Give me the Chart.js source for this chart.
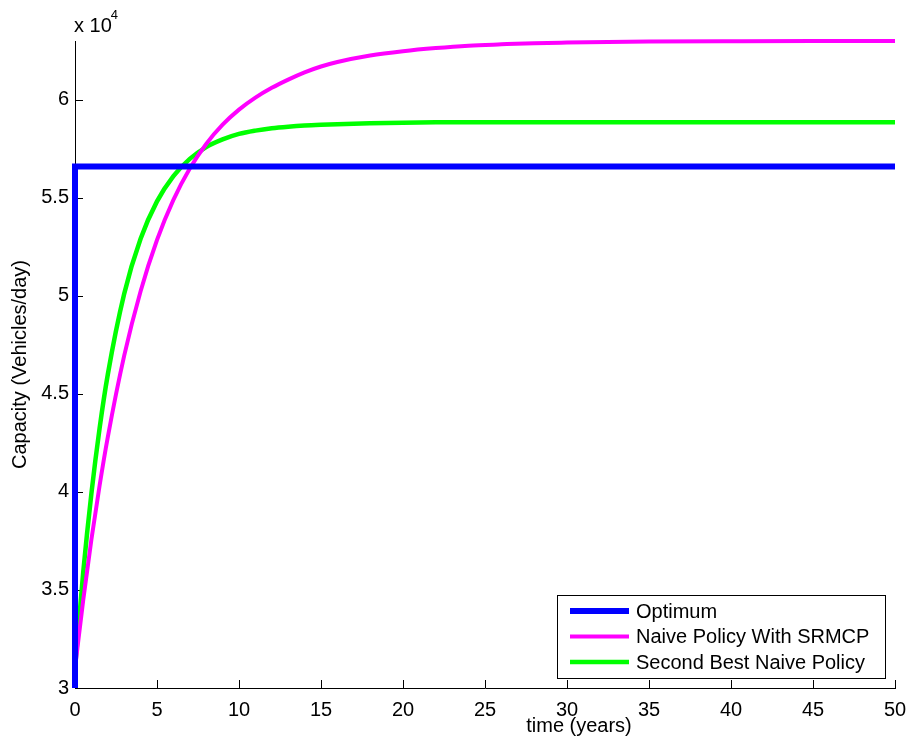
<!DOCTYPE html>
<html>
<head>
<meta charset="utf-8">
<script src="https://cdn.jsdelivr.net/npm/chart.js@4/dist/chart.umd.min.js"></script>
<style>
  html, body { margin: 0; padding: 0; background: #fff; }
  #wrap { width: 907px; height: 744px; }
</style>
</head>
<body>
<div id="wrap"><canvas id="capacityChart" width="907" height="744"></canvas></div>
<script>
// time axis (years) and capacity (vehicles/day)
const years = [0, 0.5, 1, 1.5, 2, 3, 4, 5, 6, 7, 8, 9, 10, 11, 12, 13, 14, 15, 16, 18, 20, 22, 24, 26, 28, 30, 35, 40, 45, 50];
const naiveSRMCP = [31000, 34480, 37570, 40330, 42800, 46950, 50240, 52850, 54900, 56500, 57750, 58730, 59500,
                    60110, 60610, 61030, 61400, 61700, 61930, 62260, 62480, 62640, 62760, 62830, 62890, 62920,
                    62970, 62990, 63000, 63000];
const secondBest = [31000, 35890, 39920, 43250, 45990, 50110, 52910, 54820, 56110, 56990, 57590, 57980, 58260,
                    58430, 58550, 58630, 58690, 58730, 58760, 58800, 58830, 58850, 58860, 58860, 58860, 58860,
                    58860, 58860, 58860, 58860];
const optimumYears = [0, 0, 50];
const optimum = [30000, 56600, 56600];

const xTicks = [0, 5, 10, 15, 20, 25, 30, 35, 40, 45, 50];
const yTicks = [30000, 35000, 40000, 45000, 50000, 55000, 60000];

const FONT = 'Liberation Sans, Arial, Helvetica, sans-serif';

function pts(xs, ys) {
    return xs.map((x, i) => ({x: x, y: ys[i]}));
}

// small inward tick marks on both axes, MATLAB style
const innerTicks = {
    id: 'innerTicks',
    beforeDatasetsDraw(chart) {
        const ctx = chart.ctx;
        const xs = chart.scales.x, ys = chart.scales.y;
        const area = chart.chartArea;
        ctx.save();
        ctx.strokeStyle = '#000';
        ctx.lineWidth = 1;
        ctx.beginPath();
        xTicks.forEach(v => {
            const px = Math.round(xs.getPixelForValue(v)) + 0.5;
            ctx.moveTo(px, area.bottom);
            ctx.lineTo(px, area.bottom - 8);
        });
        yTicks.forEach(v => {
            const py = Math.round(ys.getPixelForValue(v)) + 0.5;
            ctx.moveTo(area.left, py);
            ctx.lineTo(area.left + 8, py);
        });
        ctx.stroke();
        ctx.restore();
    }
};

// exponent note, x label and the boxed legend
const extras = {
    id: 'extras',
    afterDraw(chart) {
        const ctx = chart.ctx;
        ctx.save();
        ctx.fillStyle = '#000';

        ctx.font = '20px ' + FONT;
        ctx.textAlign = 'left';
        ctx.textBaseline = 'alphabetic';
        ctx.fillText('x 10', 74, 32);
        const w = ctx.measureText('x 10').width;
        ctx.font = '13px ' + FONT;
        ctx.fillText('4', 74 + w - 1, 19);

        ctx.font = '20px ' + FONT;
        ctx.textAlign = 'center';
        ctx.fillText('time (years)', 579, 732);

        // legend
        const bx = 557.5, by = 595.5, bw = 328, bh = 83;
        ctx.fillStyle = '#fff';
        ctx.fillRect(bx, by, bw, bh);
        ctx.strokeStyle = '#000';
        ctx.lineWidth = 1;
        ctx.strokeRect(bx, by, bw, bh);

        ctx.textAlign = 'left';
        ctx.textBaseline = 'middle';
        chart.data.datasets.forEach((ds, i) => {
            const ry = 611 + i * 25.5;
            ctx.strokeStyle = ds.borderColor;
            ctx.lineWidth = ds.borderWidth;
            ctx.beginPath();
            ctx.moveTo(570, ry);
            ctx.lineTo(629, ry);
            ctx.stroke();
            ctx.fillStyle = '#000';
            ctx.fillText(ds.label, 636, ry + 1);
        });
        ctx.restore();
    }
};

const ctx = document.getElementById('capacityChart').getContext('2d');
new Chart(ctx, {
    type: 'line',
    data: {
        datasets: [{
            label: 'Optimum',
            data: pts(optimumYears, optimum),
            borderColor: '#0000ff',
            borderWidth: 6,
            tension: 0,
            pointRadius: 0,
            clip: false
        }, {
            label: 'Naive Policy With SRMCP',
            data: pts(years, naiveSRMCP),
            borderColor: '#ff00ff',
            borderWidth: 4,
            cubicInterpolationMode: 'monotone',
            pointRadius: 0,
            clip: false
        }, {
            label: 'Second Best Naive Policy',
            data: pts(years, secondBest),
            borderColor: '#00ff00',
            borderWidth: 4.5,
            cubicInterpolationMode: 'monotone',
            pointRadius: 0,
            clip: false
        }]
    },
    options: {
        responsive: false,
        animation: false,
        layout: { padding: { top: 41, right: 12, left: 0, bottom: 0 } },
        plugins: {
            legend: { display: false },
            tooltip: { enabled: false }
        },
        scales: {
            x: {
                type: 'linear',
                min: 0,
                max: 50,
                afterBuildTicks: s => { s.ticks = xTicks.map(v => ({value: v})); },
                afterFit: s => { s.height = 56; s.paddingLeft = 0; s.paddingRight = 0; },
                grid: { display: false, drawTicks: false },
                border: { display: true, color: '#000', width: 1 },
                ticks: { color: '#000', padding: 10, font: { family: FONT, size: 20 }, maxRotation: 0 }
            },
            y: {
                min: 30000,
                max: 63000,
                afterBuildTicks: s => { s.ticks = yTicks.map(v => ({value: v})); },
                afterFit: s => { s.width = 75; },
                grid: { display: false, drawTicks: false },
                border: { display: true, color: '#000', width: 1 },
                ticks: {
                    color: '#000',
                    padding: 6,
                    font: { family: FONT, size: 20 },
                    callback: v => String(v / 10000)
                },
                title: {
                    display: true,
                    text: 'Capacity (Vehicles/day)',
                    color: '#000',
                    font: { family: FONT, size: 20, lineHeight: 1.2 },
                    padding: { top: 8, bottom: 0 }
                }
            }
        }
    },
    plugins: [innerTicks, extras]
});
</script>
</body>
</html>
